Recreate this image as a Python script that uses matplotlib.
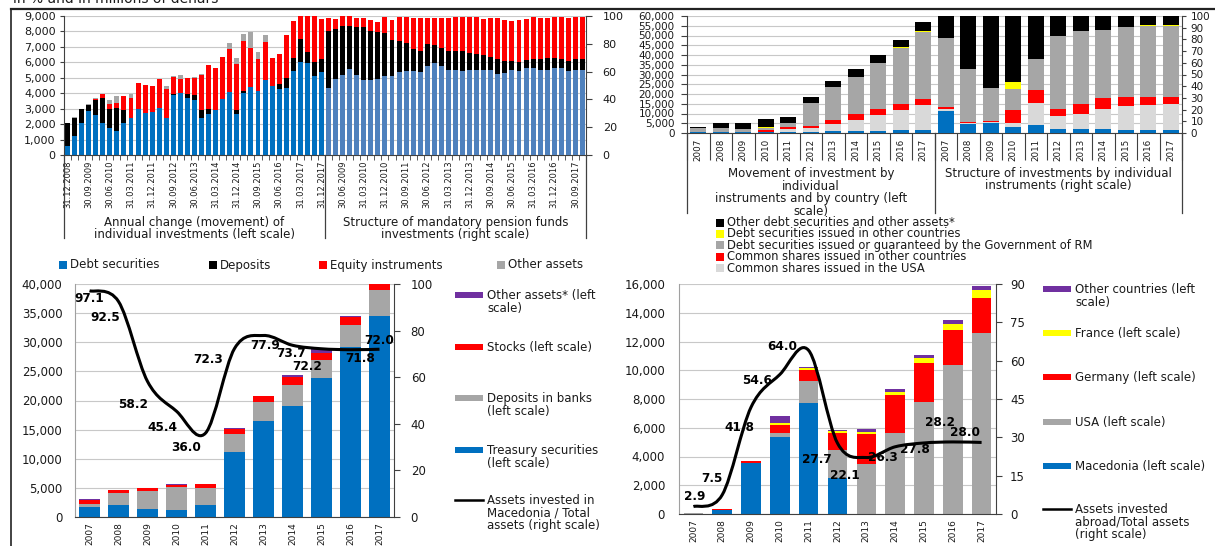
import numpy as np
import matplotlib
matplotlib.use("Agg")
import matplotlib.pyplot as plt
import matplotlib.ticker as mticker
import matplotlib.transforms as mtransforms
from matplotlib.path import Path
from matplotlib.patches import PathPatch, Rectangle
from matplotlib.lines import Line2D

plt.rcParams['font.family'] = ['DejaVu Sans']

# ---------------- data ----------------
quarters = ["31.12.2008", "31.03.2009", "30.06.2009", "30.09.2009", "31.12.2009",
            "31.03.2010", "30.06.2010", "30.09.2010", "31.12.2010", "31.03.2011",
            "30.06.2011", "30.09.2011", "31.12.2011", "31.03.2012", "30.06.2012",
            "30.09.2012", "31.12.2012", "31.03.2013", "30.06.2013", "30.09.2013",
            "31.12.2013", "31.03.2014", "30.06.2014", "30.09.2014", "31.12.2014",
            "31.03.2015", "30.06.2015", "30.09.2015", "31.12.2015", "31.03.2016",
            "30.06.2016", "30.09.2016", "31.12.2016", "31.03.2017", "30.06.2017",
            "30.09.2017", "31.12.2017"]

# annual change (millions of denars, left scale)
ac_debt = [560, 1200, 2080, 2830, 2610, 2100, 1730, 1580, 2060, 2420, 2980, 2700, 2810,
           3060, 2400, 3880, 4000, 3700, 3580, 2400, 2630, 2930, 3620, 4090, 2630, 4030,
           4390, 4130, 4880, 4480, 4260, 4370, 5460, 6040, 5930, 5100, 5400]
ac_deposits = [1500, 1200, 900, 400, 920, 1580, 1220, 1440, 870, 0, 0, 0, 0, 0, 0, 80, 0,
               260, 320, 490, 370, 0, 0, 0, 300, 100, 0, 0, 0, 0, 320, 640, 810, 1500,
               770, 940, 790]
ac_equity = [0, 0, 0, 0, 110, 260, 330, 340, 860, 1240, 1710, 1820, 1670, 1870, 1880,
             1070, 930, 1010, 1070, 2290, 2850, 2700, 2700, 2760, 2960, 3260, 2550, 2060,
             2460, 1770, 1990, 2760, 2400, 2300, 2700, 3260, 2610]
ac_other = [0, 80, 0, 50, 60, 0, 300, 430, 0, 300, 0, 0, 0, 0, 200, 90, 250, 0, 80, 70,
            0, 0, 0, 410, 360, 430, 1000, 490, 430, 0, 0, 0, 0, 0, 0, 0, 0]

# structure of mandatory pension funds investments (%, right scale)
st_debt = [48.0, 55.0, 57.3, 61.7, 57.6, 54.3, 54.3, 54.9, 56.8, 57.0, 59.4, 60.6, 60.5,
           59.5, 64.1, 65.9, 63.7, 61.5, 60.8, 60.5, 61.3, 61.3, 61.3, 60.8, 58.0, 59.3,
           61.0, 60.3, 62.7, 62.3, 61.5, 61.5, 62.5, 62.6, 60.1, 61.3, 61.5]
st_deposits = [41.1, 36.0, 35.7, 31.2, 34.8, 38.1, 35.0, 33.6, 31.2, 25.9, 22.8, 19.8,
               15.9, 15.5, 16.1, 13.2, 13.4, 13.5, 13.9, 14.4, 12.4, 11.2, 10.7, 9.7, 10.8,
               8.6, 6.6, 6.9, 5.6, 6.8, 7.3, 8.3, 7.1, 6.4, 7.8, 7.7, 7.7]
st_equity = [9.7, 7.2, 6.7, 6.8, 6.4, 6.4, 7.6, 7.5, 11.6, 14.3, 17.4, 18.7, 22.1, 23.3,
             18.6, 19.7, 21.2, 23.6, 24.6, 24.6, 25.8, 26.8, 26.2, 28.3, 29.5, 29.2, 28.8,
             29.7, 29.3, 30.4, 30.0, 29.0, 29.9, 30.5, 30.9, 30.5, 30.3]

years = ["2007", "2008", "2009", "2010", "2011", "2012", "2013", "2014", "2015", "2016", "2017"]

# movement of investment by instrument and country (millions of denars, left scale)
mv_shares_rm = [600, 390, 440, 390, 550, 680, 910, 1020, 1150, 1390, 1650]
mv_shares_usa = [70, 50, 60, 230, 1600, 1950, 3460, 5760, 7960, 10230, 12500]
mv_shares_oth = [60, 60, 60, 820, 960, 1160, 2360, 2990, 3060, 3010, 3240]
mv_debt_rm = [1950, 2300, 1480, 1300, 2180, 11460, 16620, 19180, 23880, 29060, 34530]
mv_debt_oth = [0, 0, 0, 410, 0, 0, 0, 0, 0, 290, 340]
mv_other = [620, 2300, 3260, 4050, 3110, 3150, 3450, 3950, 3750, 3820, 4540]

# structure of investments by instrument (%, right scale)
sp_shares_rm = [18.6, 7.7, 8.3, 5.4, 6.6, 3.7, 3.4, 3.1, 2.9, 2.9, 2.9]
sp_shares_usa = [2.0, 0.9, 1.1, 3.2, 19.1, 10.6, 12.9, 17.5, 20.0, 21.4, 22.0]
sp_shares_oth = [1.7, 1.1, 1.2, 11.4, 11.4, 6.3, 8.8, 9.1, 7.7, 6.3, 5.7]
sp_debt_rm = [59.1, 45.2, 28.0, 18.0, 25.9, 62.3, 62.0, 58.3, 60.0, 60.8, 60.8]
sp_debt_oth = [0, 0, 0, 5.7, 0, 0, 0, 0, 0, 0.6, 0.6]
sp_other = [18.6, 45.1, 61.4, 56.3, 37.0, 17.1, 12.9, 12.0, 9.4, 8.0, 8.0]

# bottom-left (millions of denars)
bl_treasury = [1720, 2010, 1380, 1150, 2010, 11200, 16420, 19120, 23940, 29220, 34440]
bl_deposits = [580, 2120, 3100, 4020, 3040, 3040, 3330, 3610, 2930, 3730, 4590]
bl_stocks = [690, 460, 460, 340, 580, 800, 1030, 1260, 1260, 1380, 1030]
bl_other = [110, 110, 110, 120, 110, 230, 60, 350, 750, 230, 140]
bl_share_mk = [97.1, 92.5, 58.2, 45.4, 36.0, 72.3, 77.9, 73.7, 72.2, 71.8, 72.0]

# bottom-right by country (millions of denars)
br_macedonia = [0, 250, 3520, 5360, 7710, 2530, 0, 0, 0, 0, 0]
br_usa = [40, 40, 0, 280, 1560, 1910, 3470, 5640, 7780, 10400, 12610]
br_germany = [30, 70, 140, 530, 740, 1200, 2080, 2620, 2740, 2370, 2420]
br_france = [0, 0, 0, 180, 140, 140, 160, 260, 320, 460, 530]
br_other = [0, 0, 0, 440, 90, 60, 180, 180, 230, 300, 320]
br_share_abroad = [2.9, 7.5, 41.8, 54.6, 64.0, 27.7, 22.1, 26.3, 27.8, 28.2, 28.0]

# ---------------- style ----------------
BLUE = '#0070C0'; BLUE2 = '#4F81BD'; RED = '#FF0000'; BLACK = '#000000'
GRAY = '#A6A6A6'; LGRAY = '#D9D9D9'; YELLOW = '#FFFF00'; PURPLE = '#7030A0'
GRID = '#C8C8C8'; AXC = '#404040'; TXT = '#1A1A1A'

W, H = 1215, 546
fig = plt.figure(figsize=(W / 100, H / 100), dpi=100)


def fx(x):
    return x / W


def fy(y):
    return 1 - y / H


def box(l, t, r, b):
    return [fx(l), fy(b), (r - l) / W, (b - t) / H]


thousands = mticker.FuncFormatter(lambda v, p: f"{int(v):,}")


def fig_line(x0, y0, x1, y1, lw=0.9, color=AXC):
    fig.add_artist(Line2D([fx(x0), fx(x1)], [fy(y0), fy(y1)], transform=fig.transFigure,
                          color=color, lw=lw))


def vline_data(ax, xd, y0px, y1px, lw=0.9):
    tr = mtransforms.blended_transform_factory(ax.transData, fig.transFigure)
    ax.add_line(Line2D([xd, xd], [fy(y0px), fy(y1px)], transform=tr, color=AXC, lw=lw,
                       clip_on=False))


def text_data(ax, xd, ypx, s, **kw):
    tr = mtransforms.blended_transform_factory(ax.transData, fig.transFigure)
    ax.text(xd, fy(ypx), s, transform=tr, **kw)


def stack(ax, x, series, width):
    bottom = np.zeros(len(x))
    for vals, col in series:
        v = np.asarray(vals, dtype=float)
        ax.bar(x, v, width, bottom=bottom, color=col, linewidth=0, zorder=2)
        bottom = bottom + v


def style_axes(ax, axr):
    ax.set_axisbelow(True)
    for s in ['top', 'right']:
        ax.spines[s].set_visible(False)
    for s in ['top', 'left', 'bottom']:
        axr.spines[s].set_visible(False)
    ax.spines['left'].set_color(AXC)
    ax.spines['bottom'].set_color(AXC)
    axr.spines['right'].set_color(AXC)
    ax.tick_params(axis='y', colors=AXC, labelcolor=TXT)
    axr.tick_params(axis='y', colors=AXC, labelcolor=TXT)


def smooth_path(xs, ys):
    pts = np.column_stack([xs, ys]).astype(float)
    n = len(pts)
    verts = [pts[0]]
    codes = [Path.MOVETO]
    for i in range(n - 1):
        p0 = pts[i - 1] if i > 0 else pts[i]
        p1 = pts[i]
        p2 = pts[i + 1]
        p3 = pts[i + 2] if i + 2 < n else pts[i + 1]
        verts += [p1 + (p2 - p0) / 6.0, p2 - (p3 - p1) / 6.0, p2]
        codes += [Path.CURVE4] * 3
    return Path(verts, codes)


# ---------------- frame & title ----------------
fig.text(fx(13), fy(-1), "in % and in millions of denars", fontsize=10, color=TXT,
         ha='left', va='center')
fig_line(11, 9, 1215, 9, lw=1.6, color='#222222')
fig_line(11, 9, 11, 546, lw=1.2, color='#222222')

# ---------------- top-left ----------------
n1 = len(quarters)
ax1 = fig.add_axes(box(64, 16, 586, 155))
ax1r = ax1.twinx()
xa = np.arange(n1)
xb = np.arange(n1) + n1
stack(ax1, xa, [(ac_debt, BLUE), (ac_deposits, BLACK), (ac_equity, RED), (ac_other, GRAY)], 0.7)
stack(ax1r, xb, [(st_debt, BLUE2), (st_deposits, BLACK), (st_equity, RED)], 0.7)
ax1.set_xlim(-0.5, 2 * n1 - 0.5)
ax1.set_ylim(0, 9000)
ax1r.set_ylim(0, 100)
ax1.set_yticks(range(0, 9001, 1000))
ax1.yaxis.set_major_formatter(thousands)
ax1r.set_yticks(range(0, 101, 20))
ax1.grid(axis='y', color=GRID, lw=0.8)
style_axes(ax1, ax1r)
ax1.tick_params(axis='y', labelsize=8, length=3, pad=3)
ax1r.tick_params(axis='y', labelsize=8, length=4, pad=8)
lab_pos = np.arange(0, 2 * n1, 3)
all_q = quarters + quarters
ax1.set_xticks(lab_pos)
ax1.set_xticklabels([all_q[i] for i in lab_pos], rotation=90, fontsize=6, color=TXT)
ax1.set_xticks(np.arange(-0.5, 2 * n1, 1), minor=True)
ax1.tick_params(axis='x', which='major', length=0, pad=4)
ax1.tick_params(axis='x', which='minor', length=3.5, color=AXC)
for xd in [-0.5, n1 - 0.5, 2 * n1 - 0.5]:
    vline_data(ax1, xd, 155, 238)
text_data(ax1, (n1 - 1) / 2, 216, "Annual change (movement) of\nindividual investments (left scale)",
          ha='center', va='top', fontsize=8.5, linespacing=0.95, color=TXT)
text_data(ax1, n1 + (n1 - 1) / 2, 216, "Structure of mandatory pension funds\ninvestments (right scale)",
          ha='center', va='top', fontsize=8.5, linespacing=0.95, color=TXT)

for xl, lab, col in [(59, 'Debt securities', BLUE), (209, 'Deposits', BLACK),
                     (319, 'Equity instruments', RED), (497, 'Other assets', GRAY)]:
    fig.add_artist(Rectangle((fx(xl), fy(269)), 8 / W, 8 / H, transform=fig.transFigure,
                             color=col, lw=0))
    fig.text(fx(xl + 11), fy(265), lab, fontsize=8.5, va='center', ha='left', color=TXT)

# ---------------- top-right ----------------
ny = len(years)
ax2 = fig.add_axes(box(687, 16, 1182, 133))
ax2r = ax2.twinx()
xl2 = np.arange(ny)
xr2 = np.arange(ny) + ny
stack(ax2, xl2, [(mv_shares_rm, BLUE), (mv_shares_usa, LGRAY), (mv_shares_oth, RED),
                 (mv_debt_rm, GRAY), (mv_debt_oth, YELLOW), (mv_other, BLACK)], 0.72)
stack(ax2r, xr2, [(sp_shares_rm, BLUE), (sp_shares_usa, LGRAY), (sp_shares_oth, RED),
                  (sp_debt_rm, GRAY), (sp_debt_oth, YELLOW), (sp_other, BLACK)], 0.72)
ax2.set_xlim(-0.5, 2 * ny - 0.5)
ax2.set_ylim(0, 60000)
ax2r.set_ylim(0, 100)
ax2.set_yticks(range(0, 60001, 5000))
ax2.yaxis.set_major_formatter(thousands)
ax2r.set_yticks(range(0, 101, 10))
ax2.grid(axis='y', color=GRID, lw=0.8)
style_axes(ax2, ax2r)
ax2.tick_params(axis='y', labelsize=7.5, length=4, pad=5)
ax2r.tick_params(axis='y', labelsize=7.5, length=3, pad=3)
ax2.set_xticks(np.arange(2 * ny))
ax2.set_xticklabels(years + years, rotation=90, fontsize=6.3, color=TXT)
ax2.set_xticks(np.arange(-0.5, 2 * ny, 1), minor=True)
ax2.tick_params(axis='x', which='major', length=0, pad=4)
ax2.tick_params(axis='x', which='minor', length=19.5, color=AXC, width=0.8)
for xd in [-0.5, ny - 0.5, 2 * ny - 0.5]:
    vline_data(ax2, xd, 133, 213)
text_data(ax2, (ny - 1) / 2, 167,
          "Movement of investment by\nindividual\ninstruments and by country (left\nscale)",
          ha='center', va='top', fontsize=8.5, linespacing=0.95, color=TXT)
text_data(ax2, ny + (ny - 1) / 2, 167,
          "Structure of investments by individual\ninstruments (right scale)",
          ha='center', va='top', fontsize=8.5, linespacing=0.95, color=TXT)

tr_items = [("Other debt securities and other assets*", BLACK),
            ("Debt securities issued in other countries", YELLOW),
            ("Debt securities issued or guaranteed by the Government of RM", GRAY),
            ("Common shares issued in other countries", RED),
            ("Common shares issued in the USA", LGRAY)]
for i, (lab, col) in enumerate(tr_items):
    yc = 222.5 + 11.4 * i
    fig.add_artist(Rectangle((fx(716), fy(yc + 4)), 8 / W, 8 / H, transform=fig.transFigure,
                             color=col, lw=0))
    fig.text(fx(727), fy(yc), lab, fontsize=8.3, va='center', ha='left', color=TXT)

# ---------------- bottom-left ----------------
ax3 = fig.add_axes(box(75, 284, 394, 517))
ax3r = ax3.twinx()
x3 = np.arange(ny)
stack(ax3, x3, [(bl_treasury, BLUE), (bl_deposits, GRAY), (bl_stocks, RED), (bl_other, PURPLE)], 0.72)
ax3.set_xlim(-0.5, ny - 0.5)
ax3.set_ylim(0, 40000)
ax3r.set_ylim(0, 100)
ax3.set_yticks(range(0, 40001, 5000))
ax3.yaxis.set_major_formatter(thousands)
ax3r.set_yticks(range(0, 101, 20))
ax3.grid(axis='y', color=GRID, lw=0.8)
style_axes(ax3, ax3r)
ax3.spines['left'].set_color('#A0A0A0')
ax3.tick_params(axis='y', labelsize=8.5, length=0, pad=9)
ax3r.tick_params(axis='y', labelsize=8.5, length=4, pad=8)
ax3.set_xticks(x3)
ax3.set_xticklabels(years, rotation=90, fontsize=6.5, color=TXT)
ax3.tick_params(axis='x', length=0, pad=4)
ax3r.add_patch(PathPatch(smooth_path(x3, bl_share_mk), fill=False, lw=2.2,
                         edgecolor=BLACK, zorder=4))
bl_lab_pos = [(-0.02, 93.7), (0.53, 85.5), (1.5, 48.1), (2.5, 38.6), (3.33, 30.0),
              (4.1, 67.6), (6.07, 73.6), (6.95, 70.2), (7.5, 64.4), (9.33, 68.0), (10.0, 75.8)]
for v, (lx, ly) in zip(bl_share_mk, bl_lab_pos):
    ax3r.text(lx, ly, f"{v:.1f}", fontsize=8.7, fontweight='bold', ha='center', va='center',
              color=BLACK, zorder=5)

bl_leg = [(295, ["Other assets* (left", "scale)"], PURPLE, 'bar'),
          (347, ["Stocks (left scale)"], RED, 'bar'),
          (398, ["Deposits in banks", "(left scale)"], GRAY, 'bar'),
          (450, ["Treasury securities", "(left scale)"], BLUE, 'bar'),
          (500, ["Assets invested in", "Macedonia / Total", "assets (right scale)"], BLACK, 'line')]
for yc, lines, col, kind in bl_leg:
    if kind == 'bar':
        fig.add_artist(Rectangle((fx(455), fy(yc + 3)), 28 / W, 6 / H,
                                 transform=fig.transFigure, color=col, lw=0))
    else:
        fig_line(455, yc, 483, yc, lw=1.8, color=BLACK)
    fig.text(fx(487), fy(yc - 6), "\n".join(lines), fontsize=8.5, va='top', ha='left',
             linespacing=0.97, color=TXT)

# ---------------- bottom-right ----------------
ax4 = fig.add_axes(box(679, 284, 996, 514))
ax4r = ax4.twinx()
stack(ax4, x3, [(br_macedonia, BLUE), (br_usa, GRAY), (br_germany, RED), (br_france, YELLOW),
                (br_other, PURPLE)], 0.68)
ax4.set_xlim(-0.5, ny - 0.5)
ax4.set_ylim(0, 16000)
ax4r.set_ylim(0, 90)
ax4.set_yticks(range(0, 16001, 2000))
ax4.yaxis.set_major_formatter(thousands)
ax4r.set_yticks(range(0, 91, 15))
ax4.grid(axis='y', color=GRID, lw=0.8)
style_axes(ax4, ax4r)
ax4.spines['left'].set_color('#A0A0A0')
ax4.tick_params(axis='y', labelsize=8.5, length=0, pad=10)
ax4r.tick_params(axis='y', labelsize=8.5, length=4, pad=6)
ax4.set_xticks(x3)
ax4.set_xticklabels(years, rotation=90, fontsize=6.5, color=TXT)
ax4.tick_params(axis='x', length=0, pad=4)
ax4r.add_patch(PathPatch(smooth_path(x3, br_share_abroad), fill=False, lw=2.2,
                         edgecolor=BLACK, zorder=4))
br_lab_pos = [(0.06, 7.0), (0.64, 13.7), (1.6, 34.0), (2.2, 52.4), (3.08, 65.7), (4.28, 21.5),
              (5.26, 14.9), (6.58, 22.3), (7.69, 25.4), (8.56, 36.0), (9.43, 31.7)]
for v, (lx, ly) in zip(br_share_abroad, br_lab_pos):
    ax4r.text(lx, ly, f"{v:.1f}", fontsize=8.7, fontweight='bold', ha='center', va='center',
              color=BLACK, zorder=5)

br_leg = [(289, ["Other countries (left", "scale)"], PURPLE, 'bar'),
          (333, ["France (left scale)"], YELLOW, 'bar'),
          (377, ["Germany (left scale)"], RED, 'bar'),
          (422, ["USA (left scale)"], GRAY, 'bar'),
          (466, ["Macedonia (left scale)"], BLUE, 'bar'),
          (509, ["Assets invested", "abroad/Total assets", "(right scale)"], BLACK, 'line')]
for yc, lines, col, kind in br_leg:
    if kind == 'bar':
        fig.add_artist(Rectangle((fx(1043), fy(yc + 3)), 28 / W, 6 / H,
                                 transform=fig.transFigure, color=col, lw=0))
    else:
        fig_line(1043, yc, 1071, yc, lw=1.8, color=BLACK)
    fig.text(fx(1075), fy(yc - 6), "\n".join(lines), fontsize=8.5, va='top', ha='left',
             linespacing=0.97, color=TXT)

fig.savefig("out.png", dpi=100)
